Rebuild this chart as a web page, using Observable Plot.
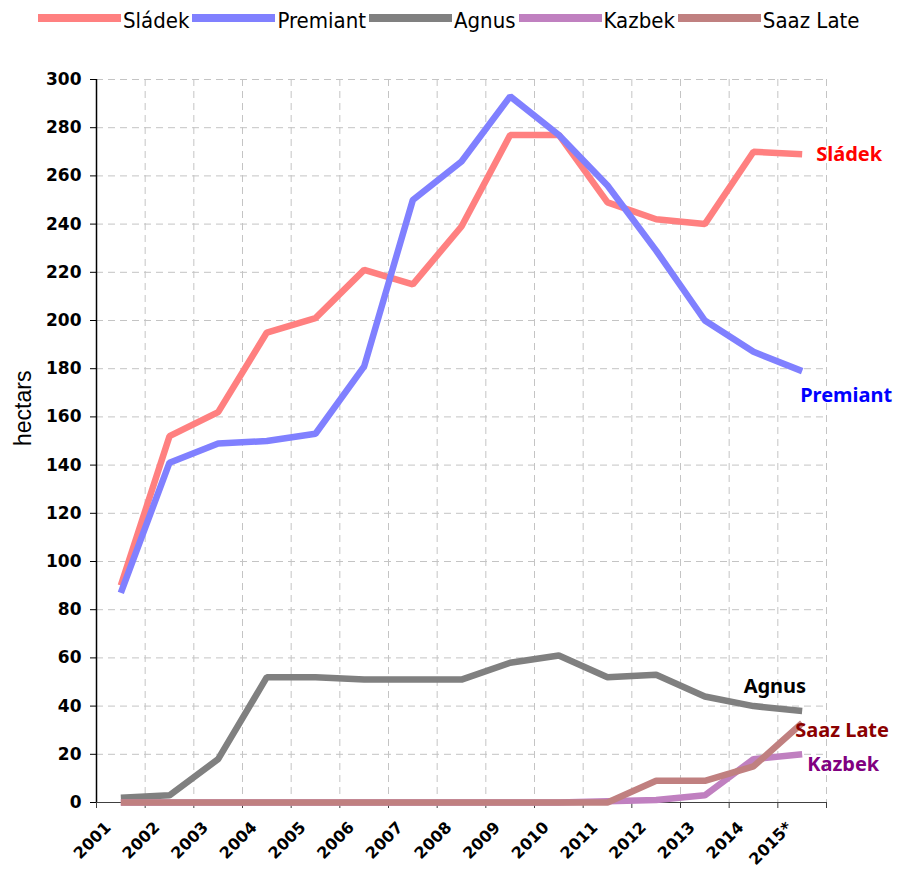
<!DOCTYPE html>
<html><head><meta charset="utf-8">
<script src="https://cdn.jsdelivr.net/npm/d3@7"></script>
<script src="https://cdn.jsdelivr.net/npm/@observablehq/plot@0.6"></script>
<style>
body{margin:0;background:#fff;}
#legend{height:40px;display:flex;align-items:center;padding-left:35px;font-family:"Liberation Sans Narrow","DejaVu Sans Condensed","DejaVu Sans",sans-serif;font-stretch:condensed;font-size:22px;color:#000;white-space:nowrap;}
.item{display:flex;align-items:center;white-space:nowrap;}
.sw{width:83px;height:8px;margin-right:2px;margin-left:3px;margin-top:-4px;}
#chart svg{display:block;}
</style></head><body>
<div id="legend"></div>
<div id="chart"></div>
<script>
const years = ["2001","2002","2003","2004","2005","2006","2007","2008","2009","2010","2011","2012","2013","2014","2015*"];
const sladek   = [90, 152, 162, 195, 201, 221, 215, 239, 277, 277, 249, 242, 240, 270, 269];
const premiant = [87, 141, 149, 150, 153, 181, 250, 266, 293, 277, 256, 229, 200, 187, 179];
const agnus    = [2, 3, 18, 52, 52, 51, 51, 51, 58, 61, 52, 53, 44, 40, 38];
const kazbek   = [0, 0, 0, 0, 0, 0, 0, 0, 0, 0, 0.5, 1, 3, 18, 20];
const saazLate = [0, 0, 0, 0, 0, 0, 0, 0, 0, 0, 0, 9, 9, 15, 33];
const seriesNames  = ["Sládek", "Premiant", "Agnus", "Kazbek", "Saaz Late"];
const seriesColors = ["#FF8080", "#8080FF", "#808080", "#C080C0", "#C08080"];
const labelColors  = ["#FF0000", "#0000FF", "#000000", "#800080", "#8B0000"];
const yTicks = d3.range(0, 301, 20);

const seriesValues = [sladek, premiant, agnus, kazbek, saazLate];

// legend
const legend = document.getElementById("legend");
seriesNames.forEach((n, i) => {
  const it = document.createElement("div"); it.className = "item";
  const sw = document.createElement("div"); sw.className = "sw"; sw.style.background = seriesColors[i];
  const tx = document.createElement("span"); tx.textContent = n;
  it.appendChild(sw); it.appendChild(tx); legend.appendChild(it);
});

const lineMarks = seriesValues.map((vals, s) =>
  Plot.line(vals.map((v, i) => ({xi: i + 0.5, v})), {
    x: "xi", y: "v", stroke: seriesColors[s], strokeWidth: 6.5,
    strokeLinejoin: "miter", strokeLinecap: "butt"
  })
);

const endLabel = (s, dx, dy, anchor) => Plot.text([seriesNames[s]], {
  x: () => years.length - 0.5, y: () => seriesValues[s][years.length - 1],
  dx, dy, textAnchor: anchor, fill: labelColors[s], fontWeight: "bold",
  fontSize: 20, fontFamily: "Noto Sans"
});

const chart = Plot.plot({
  width: 898, height: 830,
  marginLeft: 96, marginRight: 72, marginTop: 39, marginBottom: 68,
  style: {fontFamily: "DejaVu Sans", background: "#fff", fontSize: "16px"},
  x: {domain: [0, years.length]},
  y: {domain: [0, 300]},
  marks: [
    Plot.ruleY(yTicks.filter(d => d > 0), {stroke: "#c4c4c4", strokeDasharray: "7,5"}),
    Plot.ruleX(d3.range(1, years.length + 1), {stroke: "#c4c4c4", strokeDasharray: "7,5"}),
    Plot.axisY(yTicks, {tickSize: 6, tickFormat: () => "", label: null, stroke: "#000"}),
    Plot.text(yTicks, {y: d => d, frameAnchor: "left", dx: -15, textAnchor: "end",
      fontSize: 17, fontWeight: "bold", fill: "#000"}),
    Plot.axisX(d3.range(0, years.length + 1), {tickSize: 6, tickFormat: () => "", label: null, stroke: "#404040"}),
    Plot.ruleY([0], {stroke: "#404040", strokeWidth: 1.2}),
    Plot.ruleX([0], {stroke: "#000", strokeWidth: 1.5}),
    ...lineMarks,
    Plot.text(years, {x: (d, i) => i + 0.5, frameAnchor: "bottom", rotate: -45, textAnchor: "end",
      dx: -9, dy: 26, fontSize: 16, fontWeight: "bold", fill: "#000"}),
    Plot.text(["hectars"], {frameAnchor: "left", rotate: -90, dx: -73, dy: 5, fontSize: 23,
      fontFamily: "Liberation Sans", fill: "#000"}),
    endLabel(0, 14, 0, "start"),
    endLabel(1, -2, 24, "start"),
    endLabel(2, 4, -24, "end"),
    endLabel(3, 5, 10, "start"),
    endLabel(4, -7, 8, "start")
  ]
});
document.getElementById("chart").appendChild(chart);
</script>
</body></html>
